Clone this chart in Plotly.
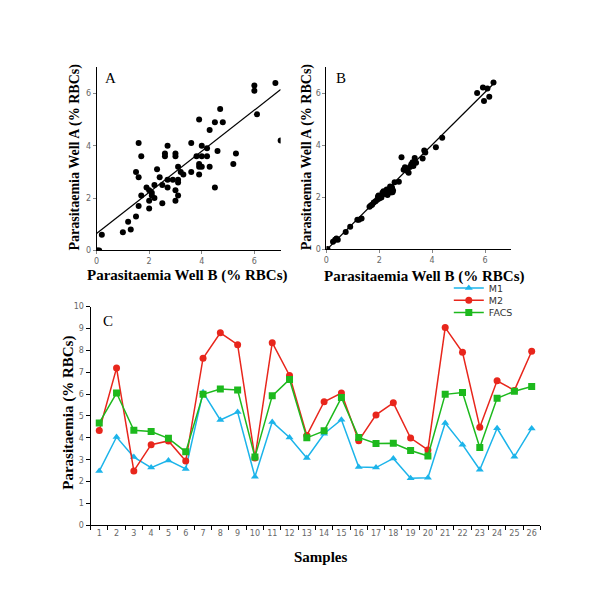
import plotly.graph_objects as go

W, H = 600, 614

# ---------------- Data ----------------
# Panel A: Well B vs Well A (M-method), scattered
a_x = [0, 0.05, 0.1, 0.2, 1.0, 1.2, 1.3, 1.5, 1.5, 1.6, 1.6, 1.6, 1.7, 1.7, 1.9, 2.0,
       2.0, 2.0, 2.1, 2.1, 2.2, 2.2, 2.3, 2.4, 2.5, 2.5, 2.6, 2.6, 2.7, 2.7, 2.7, 2.9,
       3.0, 3.0, 3.0, 3.0, 3.1, 3.1, 3.1, 3.1, 3.2, 3.3, 3.6, 3.6, 3.8, 3.9, 3.9, 3.9,
       3.9, 4.0, 4.0, 4.0, 4.2, 4.2, 4.3, 4.3, 4.5, 4.5, 4.6, 4.7, 4.8, 5.2, 5.3, 6.0,
       6.0, 6.1, 6.8, 7.0]
a_y = [0, 0, 0, 0.6, 0.7, 1.1, 0.8, 1.3, 3.0, 4.1, 2.8, 1.7, 3.6, 2.1, 2.4, 2.3,
       1.9, 1.6, 2.1, 2.2, 2.0, 2.5, 3.1, 2.8, 1.8, 2.5, 3.6, 3.7, 4.0, 2.7, 2.4, 2.7,
       3.7, 3.6, 2.3, 1.9, 2.7, 2.6, 2.1, 3.2, 3.0, 2.9, 4.1, 3.0, 3.6, 5.0, 3.3, 3.2,
       2.9, 4.0, 3.6, 3.2, 3.9, 3.6, 4.6, 3.2, 4.9, 2.4, 3.8, 5.4, 4.9, 3.3, 3.7, 6.3,
       6.1, 5.2, 6.4, 4.2]
a_fit_slope, a_fit_intercept = 0.785, 0.65
a_fit_x = [0, 7]

# Panel B: Well B vs Well A (FACS), tight
b_x = [0.04, 0.25, 0.33, 0.38, 0.43, 0.73, 0.9, 1.17, 1.23, 1.33, 1.63, 1.68, 1.73, 1.79,
       1.86, 1.92, 1.97, 2.0, 2.08, 2.16, 2.21, 2.26, 2.31, 2.36, 2.41, 2.43, 2.48, 2.52,
       2.58, 2.74, 2.84, 2.92, 2.97, 3.06, 3.11, 3.16, 3.21, 3.26, 3.29, 3.34, 3.39, 3.64,
       3.7, 3.74, 4.14, 4.38, 5.7, 5.92, 5.96, 6.09, 6.16, 6.32, 2.12, 2.28, 1.95, 2.5]
b_y = [0.02, 0.3, 0.37, 0.42, 0.37, 0.67, 0.87, 1.14, 1.14, 1.19, 1.64, 1.69, 1.72, 1.8,
       1.85, 1.91, 2.07, 1.96, 2.0, 2.24, 2.13, 2.19, 2.09, 2.23, 2.42, 2.19, 2.38, 2.26,
       2.58, 2.6, 3.54, 3.06, 3.16, 3.01, 2.95, 3.17, 3.27, 3.35, 3.21, 3.51, 3.33, 3.49,
       3.8, 3.72, 3.93, 4.29, 6.01, 6.22, 5.7, 6.18, 5.86, 6.41, 2.18, 2.3, 2.02, 2.2]
b_fit_slope, b_fit_intercept = 1.01, -0.02
b_fit_x = [0, 6.35]

# Panel C: parasitaemia per sample
samples = [str(i) for i in range(1, 27)]
m1 = [2.48, 4.04, 3.12, 2.64, 2.97, 2.58, 6.08, 4.82, 5.18, 2.22, 4.73, 4.02, 3.08,
      4.19, 4.83, 2.67, 2.64, 3.06, 2.15, 2.18, 4.68, 3.69, 2.54, 4.44, 3.14, 4.43]
m2 = [4.34, 7.19, 2.49, 3.69, 3.86, 2.94, 7.64, 8.80, 8.26, 3.08, 8.35, 6.85, 4.11,
      5.65, 6.05, 3.87, 5.05, 5.60, 3.99, 3.45, 9.04, 7.91, 4.49, 6.61, 6.17, 7.96]
facs = [4.68, 6.05, 4.35, 4.29, 3.98, 3.36, 5.99, 6.23, 6.19, 3.12, 5.92, 6.67, 4.00,
        4.32, 5.84, 4.02, 3.74, 3.75, 3.42, 3.17, 5.99, 6.07, 3.56, 5.81, 6.13, 6.35]

scatter_ticks = [0, 2, 4, 6]
c_yticks = list(range(0, 11))

# ---------------- Styling ----------------
BLUE, RED, GREEN = "#1CB4EA", "#E8261C", "#1DB91D"
SANS = "DejaVu Sans"
SERIF = "Liberation Serif"
TICKFONT = dict(family=SANS, size=8, color="#666666")


def px(x):
    return x / W


def py(y):
    return 1 - y / H


fig = go.Figure()

fig.add_trace(go.Scatter(x=a_x, y=a_y, mode="markers", xaxis="x", yaxis="y",
                         marker=dict(color="black", size=6), showlegend=False))
fig.add_trace(go.Scatter(x=a_fit_x, y=[a_fit_intercept + a_fit_slope * v for v in a_fit_x],
                         mode="lines", xaxis="x", yaxis="y",
                         line=dict(color="black", width=1.2), showlegend=False))
fig.add_trace(go.Scatter(x=b_x, y=b_y, mode="markers", xaxis="x2", yaxis="y2",
                         marker=dict(color="black", size=6), showlegend=False))
fig.add_trace(go.Scatter(x=b_fit_x, y=[b_fit_intercept + b_fit_slope * v for v in b_fit_x],
                         mode="lines", xaxis="x2", yaxis="y2",
                         line=dict(color="black", width=1.2), showlegend=False))

fig.add_trace(go.Scatter(x=samples, y=m1, name="M1", mode="lines+markers", xaxis="x3", yaxis="y3",
                         line=dict(color=BLUE, width=1.5), legend="legend",
                         marker=dict(symbol="triangle-up", size=7, color=BLUE)))
fig.add_trace(go.Scatter(x=samples, y=m2, name="M2", mode="lines+markers", xaxis="x3", yaxis="y3",
                         line=dict(color=RED, width=1.5), legend="legend2",
                         marker=dict(symbol="circle", size=7, color=RED)))
fig.add_trace(go.Scatter(x=samples, y=facs, name="FACS", mode="lines+markers", xaxis="x3", yaxis="y3",
                         line=dict(color=GREEN, width=1.5), legend="legend3",
                         marker=dict(symbol="square", size=7, color=GREEN)))

scat_axis = dict(range=[0, 7], tickvals=scatter_ticks, ticks="outside", ticklen=3,
                 tickcolor="#888888", showline=True, linecolor="black", linewidth=1,
                 showgrid=False, zeroline=False, tickfont=TICKFONT)


def leg(y):
    return dict(x=px(440), y=py(y), xanchor="left", yanchor="middle",
                font=dict(family=SANS, size=9.5, color="#333333"),
                bgcolor="rgba(0,0,0,0)", itemwidth=30)


fig.update_layout(
    width=W, height=H,
    margin=dict(l=0, r=0, t=0, b=0),
    paper_bgcolor="white", plot_bgcolor="white",
    xaxis=dict(domain=[px(86), px(271)], anchor="y", **scat_axis),
    yaxis=dict(domain=[py(242), py(56)], anchor="x", **scat_axis),
    xaxis2=dict(domain=[px(317), px(503)], anchor="y2", **scat_axis),
    yaxis2=dict(domain=[py(241), py(56)], anchor="x2", **scat_axis),
    xaxis3=dict(domain=[px(80), px(532)], anchor="y3", type="category",
                tickson="boundaries", ticks="outside", ticklen=4, tickcolor="black",
                showline=True, linecolor="black", linewidth=1.2, showgrid=False,
                tickfont=TICKFONT, tickangle=0, range=[-0.5, 25.5]),
    yaxis3=dict(domain=[py(521), py(299)], anchor="x3", range=[0, 10], tickvals=c_yticks,
                ticks="outside", ticklen=4, tickcolor="black", showline=True,
                linecolor="black", linewidth=1.2, showgrid=False, zeroline=False,
                tickfont=TICKFONT),
    legend=leg(280),
    legend2=leg(292.5),
    legend3=leg(305),
    showlegend=True,
)

ann = [
    ("A", 100, 67, 0, 15),
    ("B", 332, 67, 0, 15),
    ("C", 97, 314, 0, 15),
    ("<b>Parasitaemia Well B (% RBCs)</b>", 177, 267, 0, 15),
    ("<b>Parasitaemia Well A (% RBCs)</b>", 64, 147, -90, 14),
    ("<b>Parasitaemia Well B (% RBCs)</b>", 416, 268, 0, 15),
    ("<b>Parasitaemia Well A (% RBCs)</b>", 297, 147, -90, 14),
    ("<b>Samples</b>", 312, 553, 0, 15),
    ("<b>Parasitaemia (% RBCs)</b>", 57, 407, -90, 15),
]
for text, x, y, ang, size in ann:
    fig.add_annotation(text=text, x=px(x), y=py(y), xref="paper", yref="paper",
                       showarrow=False, textangle=ang, xanchor="center", yanchor="middle",
                       font=dict(family=SERIF, size=size, color="black"))

fig.write_html("out.html")
